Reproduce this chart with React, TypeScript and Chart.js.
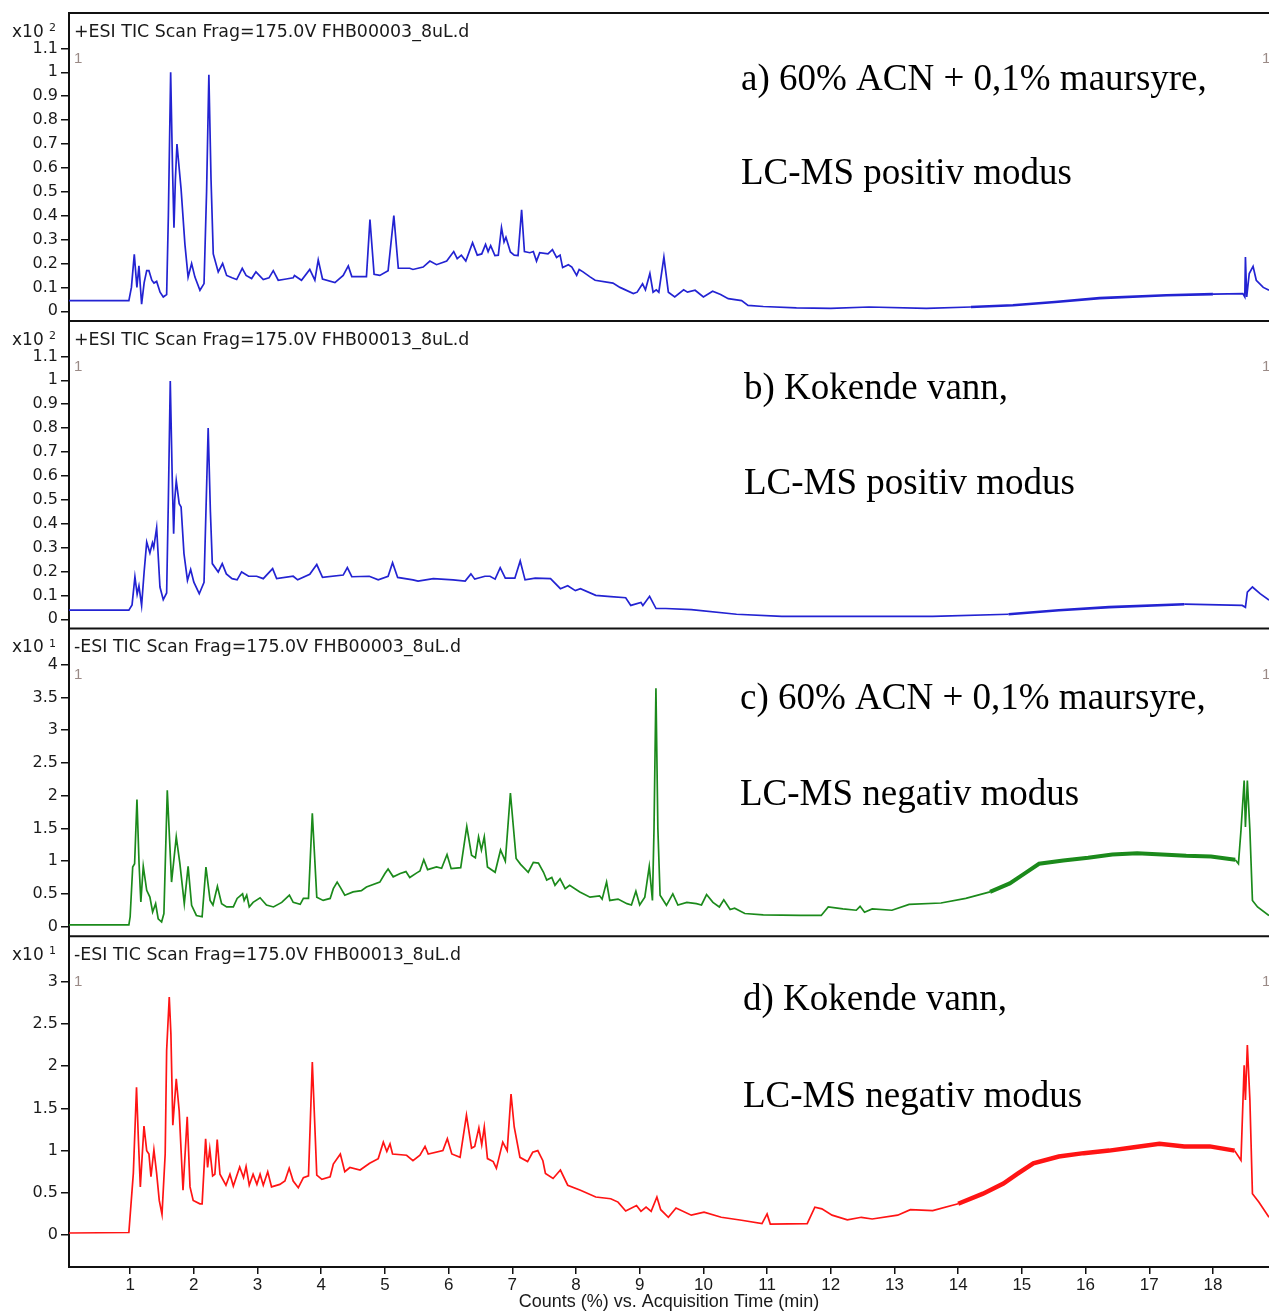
import React, { useEffect, useRef } from 'react';
import { Chart, registerables } from 'chart.js';

Chart.register(...registerables);

// ---------- DATA ----------
// Panel a) +ESI, FHB00003 (x10^2 counts)
const timeA = [0.04, 0.5, 0.98, 1.02, 1.065, 1.106, 1.138, 1.18, 1.22, 1.26, 1.295, 1.34, 1.374, 1.416, 1.47, 1.52, 1.573, 1.6, 1.636, 1.665, 1.688, 1.71, 1.735, 1.8, 1.86, 1.91, 1.965, 2.017, 2.096, 2.16, 2.2, 2.236, 2.27, 2.305, 2.383, 2.452, 2.515, 2.6, 2.672, 2.76, 2.82, 2.907, 2.975, 3.09, 3.18, 3.247, 3.325, 3.45, 3.56, 3.58, 3.69, 3.82, 3.9, 3.953, 4.02, 4.215, 4.345, 4.425, 4.48, 4.71, 4.765, 4.83, 4.92, 5.05, 5.14, 5.21, 5.39, 5.44, 5.6, 5.706, 5.81, 5.97, 6.08, 6.135, 6.2, 6.27, 6.376, 6.45, 6.52, 6.58, 6.62, 6.66, 6.727, 6.78, 6.83, 6.87, 6.9, 6.97, 7.03, 7.09, 7.146, 7.19, 7.276, 7.33, 7.38, 7.43, 7.56, 7.63, 7.695, 7.75, 7.79, 7.88, 7.935, 8.01, 8.05, 8.11, 8.22, 8.3, 8.58, 8.69, 8.9, 8.96, 9.045, 9.09, 9.16, 9.21, 9.26, 9.3, 9.38, 9.45, 9.55, 9.69, 9.75, 9.87, 10.0, 10.145, 10.27, 10.39, 10.6, 10.7, 10.94, 11.46, 12.0, 12.6, 13.5, 14.2, 14.86, 15.52, 16.22, 17.27, 18.0, 18.47, 18.5, 18.51, 18.53, 18.57, 18.63, 18.68, 18.79, 18.88];
const countsA = [0.045, 0.045, 0.045, 0.1, 0.238, 0.1, 0.19, 0.03, 0.12, 0.17, 0.17, 0.13, 0.118, 0.125, 0.08, 0.06, 0.07, 0.4, 1.0, 0.6, 0.35, 0.55, 0.7, 0.51, 0.28, 0.143, 0.2, 0.143, 0.088, 0.116, 0.5, 0.99, 0.55, 0.24, 0.165, 0.2, 0.15, 0.14, 0.133, 0.18, 0.15, 0.137, 0.165, 0.133, 0.14, 0.17, 0.13, 0.135, 0.14, 0.15, 0.13, 0.175, 0.13, 0.215, 0.135, 0.12, 0.15, 0.19, 0.145, 0.145, 0.384, 0.155, 0.15, 0.17, 0.4, 0.18, 0.18, 0.175, 0.185, 0.21, 0.195, 0.21, 0.25, 0.22, 0.235, 0.21, 0.287, 0.235, 0.24, 0.28, 0.25, 0.275, 0.233, 0.235, 0.35, 0.29, 0.31, 0.248, 0.235, 0.233, 0.425, 0.25, 0.245, 0.25, 0.21, 0.245, 0.24, 0.258, 0.225, 0.235, 0.183, 0.195, 0.185, 0.15, 0.175, 0.165, 0.144, 0.13, 0.118, 0.1, 0.074, 0.08, 0.115, 0.09, 0.158, 0.08, 0.09, 0.08, 0.227, 0.08, 0.06, 0.09, 0.08, 0.088, 0.06, 0.084, 0.07, 0.053, 0.045, 0.025, 0.02, 0.014, 0.012, 0.018, 0.012, 0.018, 0.025, 0.039, 0.055, 0.067, 0.072, 0.074, 0.06, 0.227, 0.06, 0.158, 0.188, 0.13, 0.1, 0.088];

// Panel b) +ESI, FHB00013 (x10^2 counts)
const timeB = [0.04, 0.98, 1.03, 1.075, 1.11, 1.138, 1.18, 1.22, 1.26, 1.31, 1.35, 1.37, 1.416, 1.468, 1.52, 1.573, 1.6, 1.63, 1.66, 1.683, 1.7, 1.724, 1.77, 1.8, 1.845, 1.9, 1.95, 2.0, 2.085, 2.16, 2.19, 2.225, 2.26, 2.29, 2.383, 2.446, 2.51, 2.6, 2.68, 2.75, 2.86, 2.986, 3.09, 3.237, 3.3, 3.56, 3.63, 3.82, 3.93, 4.02, 4.345, 4.41, 4.48, 4.754, 4.895, 5.05, 5.12, 5.2, 5.44, 5.52, 5.76, 6.07, 6.26, 6.35, 6.41, 6.57, 6.65, 6.73, 6.81, 6.89, 7.04, 7.124, 7.2, 7.36, 7.6, 7.755, 7.87, 7.99, 8.07, 8.31, 8.545, 8.78, 8.86, 9.02, 9.05, 9.155, 9.256, 9.41, 9.81, 10.52, 11.23, 13.6, 14.79, 15.58, 16.37, 17.55, 18.46, 18.51, 18.54, 18.62, 18.74, 18.88];
const countsB = [0.038, 0.038, 0.06, 0.177, 0.105, 0.14, 0.058, 0.2, 0.323, 0.277, 0.32, 0.3, 0.383, 0.135, 0.082, 0.11, 0.5, 0.997, 0.6, 0.358, 0.5, 0.58, 0.484, 0.47, 0.275, 0.163, 0.208, 0.155, 0.107, 0.155, 0.45, 0.8, 0.45, 0.233, 0.198, 0.233, 0.19, 0.17, 0.165, 0.198, 0.18, 0.18, 0.17, 0.212, 0.17, 0.18, 0.165, 0.188, 0.229, 0.175, 0.185, 0.216, 0.178, 0.18, 0.165, 0.18, 0.237, 0.175, 0.165, 0.16, 0.17, 0.165, 0.16, 0.19, 0.168, 0.18, 0.18, 0.168, 0.216, 0.172, 0.172, 0.244, 0.165, 0.172, 0.17, 0.128, 0.14, 0.12, 0.128, 0.1, 0.095, 0.09, 0.058, 0.07, 0.058, 0.096, 0.045, 0.045, 0.04, 0.021, 0.0125, 0.0125, 0.021, 0.038, 0.051, 0.063, 0.058, 0.05, 0.114, 0.135, 0.107, 0.08];

// Panel c) -ESI, FHB00003 (x10^1 counts)
const timeC = [0.04, 0.98, 1.0, 1.04, 1.07, 1.107, 1.14, 1.168, 1.206, 1.26, 1.31, 1.353, 1.4, 1.44, 1.494, 1.53, 1.583, 1.65, 1.724, 1.78, 1.85, 1.91, 1.965, 2.04, 2.13, 2.19, 2.255, 2.3, 2.37, 2.436, 2.515, 2.62, 2.68, 2.765, 2.79, 2.83, 2.87, 2.93, 3.04, 3.14, 3.25, 3.38, 3.5, 3.56, 3.67, 3.72, 3.8, 3.86, 3.93, 4.03, 4.14, 4.19, 4.25, 4.3, 4.37, 4.5, 4.63, 4.71, 4.92, 5.0, 5.05, 5.13, 5.24, 5.33, 5.39, 5.5, 5.55, 5.61, 5.67, 5.81, 5.89, 5.975, 6.04, 6.19, 6.285, 6.36, 6.42, 6.47, 6.515, 6.56, 6.61, 6.73, 6.815, 6.89, 6.97, 7.06, 7.13, 7.25, 7.33, 7.41, 7.49, 7.54, 7.62, 7.67, 7.75, 7.83, 7.9, 8.06, 8.22, 8.37, 8.41, 8.48, 8.53, 8.66, 8.8, 8.87, 8.94, 9.0, 9.08, 9.15, 9.2, 9.225, 9.255, 9.285, 9.32, 9.42, 9.52, 9.6, 9.74, 9.89, 9.97, 10.05, 10.15, 10.25, 10.32, 10.42, 10.49, 10.65, 10.94, 11.52, 11.85, 11.96, 12.19, 12.4, 12.46, 12.53, 12.65, 12.96, 13.23, 13.73, 14.12, 14.5, 14.81, 15.04, 15.27, 15.65, 16.04, 16.42, 16.81, 17.2, 17.58, 17.97, 18.35, 18.4, 18.44, 18.49, 18.51, 18.54, 18.58, 18.62, 18.7, 18.88];
const countsC = [0.025, 0.025, 0.15, 0.91, 0.96, 1.94, 0.96, 0.375, 0.92, 0.555, 0.45, 0.223, 0.35, 0.12, 0.07, 0.2, 2.08, 0.68, 1.37, 0.97, 0.35, 0.92, 0.325, 0.17, 0.15, 0.91, 0.4, 0.33, 0.615, 0.35, 0.3, 0.3, 0.43, 0.5, 0.4, 0.48, 0.3, 0.37, 0.44, 0.33, 0.3, 0.37, 0.48, 0.37, 0.34, 0.43, 0.43, 1.73, 0.45, 0.4, 0.43, 0.58, 0.68, 0.6, 0.48, 0.53, 0.55, 0.605, 0.68, 0.81, 0.88, 0.76, 0.81, 0.84, 0.75, 0.82, 0.85, 1.02, 0.87, 0.91, 0.89, 1.1, 0.885, 0.9, 1.53, 1.09, 1.05, 1.37, 1.17, 1.37, 0.91, 0.83, 1.17, 1.0, 2.04, 1.04, 0.95, 0.83, 0.98, 0.97, 0.83, 0.71, 0.75, 0.63, 0.73, 0.58, 0.63, 0.53, 0.45, 0.47, 0.42, 0.68, 0.4, 0.42, 0.35, 0.33, 0.54, 0.33, 0.45, 0.92, 0.4, 1.5, 3.64, 1.5, 0.48, 0.325, 0.5, 0.33, 0.37, 0.35, 0.33, 0.49, 0.37, 0.3, 0.41, 0.26, 0.28, 0.2, 0.18, 0.17, 0.17, 0.3, 0.27, 0.25, 0.31, 0.22, 0.27, 0.25, 0.34, 0.36, 0.43, 0.53, 0.66, 0.81, 0.96, 1.01, 1.05, 1.1, 1.12, 1.1, 1.08, 1.07, 1.02, 0.96, 1.47, 2.23, 1.52, 2.23, 1.47, 0.4, 0.3, 0.17];

// Panel d) -ESI, FHB00013 (x10^1 counts)
const timeD = [0.04, 0.98, 1.05, 1.1, 1.13, 1.16, 1.217, 1.26, 1.295, 1.327, 1.373, 1.416, 1.457, 1.5, 1.55, 1.573, 1.614, 1.64, 1.67, 1.724, 1.77, 1.83, 1.896, 1.94, 1.99, 2.095, 2.13, 2.185, 2.216, 2.25, 2.295, 2.33, 2.367, 2.41, 2.504, 2.567, 2.62, 2.72, 2.78, 2.82, 2.87, 2.93, 2.99, 3.04, 3.09, 3.16, 3.22, 3.35, 3.43, 3.497, 3.56, 3.64, 3.72, 3.8, 3.86, 3.93, 4.01, 4.14, 4.19, 4.3, 4.37, 4.45, 4.61, 4.76, 4.895, 4.975, 5.03, 5.08, 5.12, 5.34, 5.44, 5.55, 5.63, 5.68, 5.91, 5.98, 6.05, 6.18, 6.28, 6.36, 6.41, 6.475, 6.52, 6.56, 6.61, 6.7, 6.75, 6.85, 6.92, 6.98, 7.03, 7.12, 7.24, 7.32, 7.4, 7.48, 7.52, 7.64, 7.755, 7.87, 8.07, 8.31, 8.545, 8.66, 8.78, 8.95, 9.02, 9.1, 9.18, 9.27, 9.33, 9.45, 9.57, 9.81, 10.01, 10.28, 10.6, 10.92, 11.0, 11.05, 11.63, 11.75, 11.86, 12.02, 12.26, 12.48, 12.65, 13.05, 13.25, 13.6, 14.0, 14.39, 14.71, 14.94, 15.18, 15.58, 15.97, 16.37, 16.76, 17.16, 17.55, 17.95, 18.34, 18.44, 18.49, 18.51, 18.54, 18.58, 18.62, 18.72, 18.88];
const countsD = [0.024, 0.03, 0.73, 1.75, 1.12, 0.57, 1.29, 1.0, 0.96, 0.69, 1.01, 0.73, 0.41, 0.245, 0.96, 2.19, 2.82, 2.38, 1.3, 1.85, 1.47, 0.53, 1.4, 0.57, 0.41, 0.37, 0.37, 1.14, 0.8, 1.02, 0.7, 0.72, 1.13, 0.72, 0.59, 0.72, 0.58, 0.805, 0.68, 0.81, 0.59, 0.72, 0.6, 0.72, 0.59, 0.75, 0.57, 0.6, 0.64, 0.79, 0.64, 0.56, 0.68, 0.7, 2.05, 0.71, 0.66, 0.69, 0.84, 0.96, 0.75, 0.8, 0.77, 0.85, 0.905, 1.1, 0.99, 1.08, 0.96, 0.945, 0.88, 0.945, 1.05, 0.96, 1.0, 1.14, 0.96, 0.92, 1.42, 1.03, 1.05, 1.27, 1.07, 1.28, 0.905, 0.87, 0.79, 1.1, 1.0, 1.67, 1.28, 0.92, 0.87, 0.98, 1.0, 0.88, 0.73, 0.67, 0.77, 0.59, 0.53, 0.45, 0.43, 0.39, 0.285, 0.35, 0.28, 0.33, 0.28, 0.45, 0.3, 0.21, 0.32, 0.235, 0.27, 0.21, 0.175, 0.135, 0.25, 0.13, 0.135, 0.33, 0.31, 0.235, 0.18, 0.21, 0.19, 0.235, 0.3, 0.29, 0.37, 0.49, 0.61, 0.73, 0.85, 0.93, 0.97, 1.0, 1.04, 1.08, 1.05, 1.05, 1.0, 0.885, 2.01, 1.6, 2.25, 1.6, 0.49, 0.39, 0.21];

// Tick values
const xTickValues = [1, 2, 3, 4, 5, 6, 7, 8, 9, 10, 11, 12, 13, 14, 15, 16, 17, 18];
const yTicksPositive = [0, 0.1, 0.2, 0.3, 0.4, 0.5, 0.6, 0.7, 0.8, 0.9, 1, 1.1];
const yTicksNegativeC = [0, 0.5, 1, 1.5, 2, 2.5, 3, 3.5, 4];
const yTicksNegativeD = [0, 0.5, 1, 1.5, 2, 2.5, 3];

// Texts
const panelHeaders = [
  '+ESI TIC Scan Frag=175.0V FHB00003_8uL.d',
  '+ESI TIC Scan Frag=175.0V FHB00013_8uL.d',
  '-ESI TIC Scan Frag=175.0V FHB00003_8uL.d',
  '-ESI TIC Scan Frag=175.0V FHB00013_8uL.d',
];
const panelExponents = ['2', '2', '1', '1'];
const panelTitles = [
  ['a) 60% ACN + 0,1% maursyre,', 'LC-MS positiv modus'],
  ['b) Kokende vann,', 'LC-MS positiv modus'],
  ['c) 60% ACN + 0,1% maursyre,', 'LC-MS negativ modus'],
  ['d) Kokende vann,', 'LC-MS negativ modus'],
];
const xAxisTitle = 'Counts (%) vs. Acquisition Time (min)';

// ---------- STYLE ----------
const SANS = '"Liberation Sans", Arial, sans-serif';
const SANS2 = '"DejaVu Sans", sans-serif';
const SERIF = '"Liberation Serif", "Times New Roman", serif';

const panelIds = ['yA', 'yB', 'yC', 'yD'];
const panelStyle = [
  { color: '#2323d2', weight: 308, min: -0.0406, max: 1.248, ticks: yTicksPositive, noisy: [13.8, 18.46], noisyWidth: 2.6, titleX: 741, b1: 76.5, b2: 170.5 },
  { color: '#2323d2', weight: 307.6, min: -0.039, max: 1.248, ticks: yTicksPositive, noisy: [13.8, 18.45], noisyWidth: 2.6, titleX: 744, b1: 77.5, b2: 172.5 },
  { color: '#1b8a1b', weight: 307.7, min: -0.148, max: 4.55, ticks: yTicksNegativeC, noisy: [14.2, 18.38], noisyWidth: 4, titleX: 740, b1: 80, b2: 176.5 },
  { color: '#ff1414', weight: 330.7, min: -0.379, max: 3.539, ticks: yTicksNegativeD, noisy: [14.0, 18.4], noisyWidth: 4.5, titleX: 743, b1: 74, b2: 170.5 },
];
const series = [
  [timeA, countsA],
  [timeB, countsB],
  [timeC, countsC],
  [timeD, countsD],
];

const overlayPlugin = {
  id: 'overlay',
  afterDraw(chart: any) {
    const ctx = chart.ctx;
    const { left, right } = chart.chartArea;
    ctx.save();
    panelIds.forEach((id, i) => {
      const s = chart.scales[id];
      const top = s.top;
      ctx.strokeStyle = '#111';
      ctx.lineWidth = 2;
      ctx.beginPath();
      ctx.moveTo(left - 1, top);
      ctx.lineTo(right, top);
      ctx.stroke();

      ctx.textAlign = 'left';
      ctx.textBaseline = 'alphabetic';
      ctx.fillStyle = '#1a1a1a';
      ctx.font = `17.4px ${SANS2}`;
      ctx.fillText(panelHeaders[i], 74, top + 23.5);
      ctx.font = `17px ${SANS2}`;
      ctx.fillText('x10', 12, top + 23.5);
      ctx.font = `11px ${SANS2}`;
      ctx.fillText(panelExponents[i], 49, top + 18);

      ctx.fillStyle = '#9a8a86';
      ctx.font = `15px ${SANS}`;
      ctx.fillText('1', 74, top + 50);
      ctx.fillText('1', 1262, top + 50);

      const st = panelStyle[i];
      ctx.fillStyle = '#000';
      ctx.font = `37px ${SERIF}`;
      ctx.fillText(panelTitles[i][0], st.titleX, top + st.b1);
      ctx.fillText(panelTitles[i][1], st.titleX, top + st.b2);
    });
    ctx.restore();
  },
};

function makeYScale(i: number) {
  const st = panelStyle[i];
  return {
    type: 'linear',
    position: 'left',
    stack: 'panels',
    stackWeight: st.weight,
    weight: 10 - i,
    min: st.min,
    max: st.max,
    afterBuildTicks: (scale: any) => {
      scale.ticks = st.ticks.map((v) => ({ value: v }));
    },
    afterFit: (scale: any) => {
      scale.width = 69;
    },
    ticks: {
      callback: (v: any) => String(v),
      font: { family: SANS2, size: 16 },
      color: '#1a1a1a',
      padding: 3,
      autoSkip: false,
    },
    grid: {
      drawOnChartArea: false,
      drawTicks: true,
      tickLength: 8,
      color: '#111',
      lineWidth: 1.5,
    },
    border: { display: true, color: '#111', width: 2 },
  };
}

export default function App() {
  const ref = useRef<HTMLCanvasElement>(null);

  useEffect(() => {
    if (!ref.current) return;
    const datasets = series.map(([t, v], i) => {
      const st = panelStyle[i];
      return {
        data: t.map((x, k) => ({ x, y: v[k] })),
        yAxisID: panelIds[i],
        borderColor: st.color,
        borderWidth: 1.7,
        pointRadius: 0,
        tension: 0,
        fill: false,
        segment: {
          borderWidth: (ctx: any) =>
            ctx.p0.parsed.x >= st.noisy[0] && ctx.p1.parsed.x <= st.noisy[1] ? st.noisyWidth : 1.7,
        },
      };
    });

    const scales: any = {
      x: {
        type: 'linear',
        position: 'bottom',
        min: 0.04,
        max: 18.88,
        afterBuildTicks: (scale: any) => {
          scale.ticks = xTickValues.map((v) => ({ value: v }));
        },
        afterFit: (scale: any) => {
          scale.height = 44;
        },
        ticks: {
          font: { family: SANS, size: 17 },
          color: '#1a1a1a',
          padding: 1,
          maxRotation: 0,
          autoSkip: false,
        },
        grid: {
          drawOnChartArea: false,
          drawTicks: true,
          tickLength: 7,
          color: '#111',
          lineWidth: 1.5,
        },
        border: { display: true, color: '#111', width: 2 },
        title: {
          display: true,
          text: xAxisTitle,
          font: { family: SANS, size: 18 },
          color: '#1a1a1a',
          padding: { top: 0, bottom: -2 },
        },
      },
    };
    panelIds.forEach((id, i) => {
      scales[id] = makeYScale(i);
    });

    const chart = new Chart(ref.current, {
      type: 'line',
      data: { datasets } as any,
      options: {
        animation: false,
        responsive: false,
        devicePixelRatio: 1,
        layout: { padding: { top: 13, left: 0, right: 0, bottom: 0 } },
        plugins: { legend: { display: false }, tooltip: { enabled: false } },
        scales,
      } as any,
      plugins: [overlayPlugin],
    });
    return () => chart.destroy();
  }, []);

  return (
    <div style={{ position: 'absolute', left: 0, top: 0, width: 1269, height: 1311, background: '#fff' }}>
      <canvas ref={ref} width={1269} height={1311} style={{ display: 'block' }} />
    </div>
  );
}
